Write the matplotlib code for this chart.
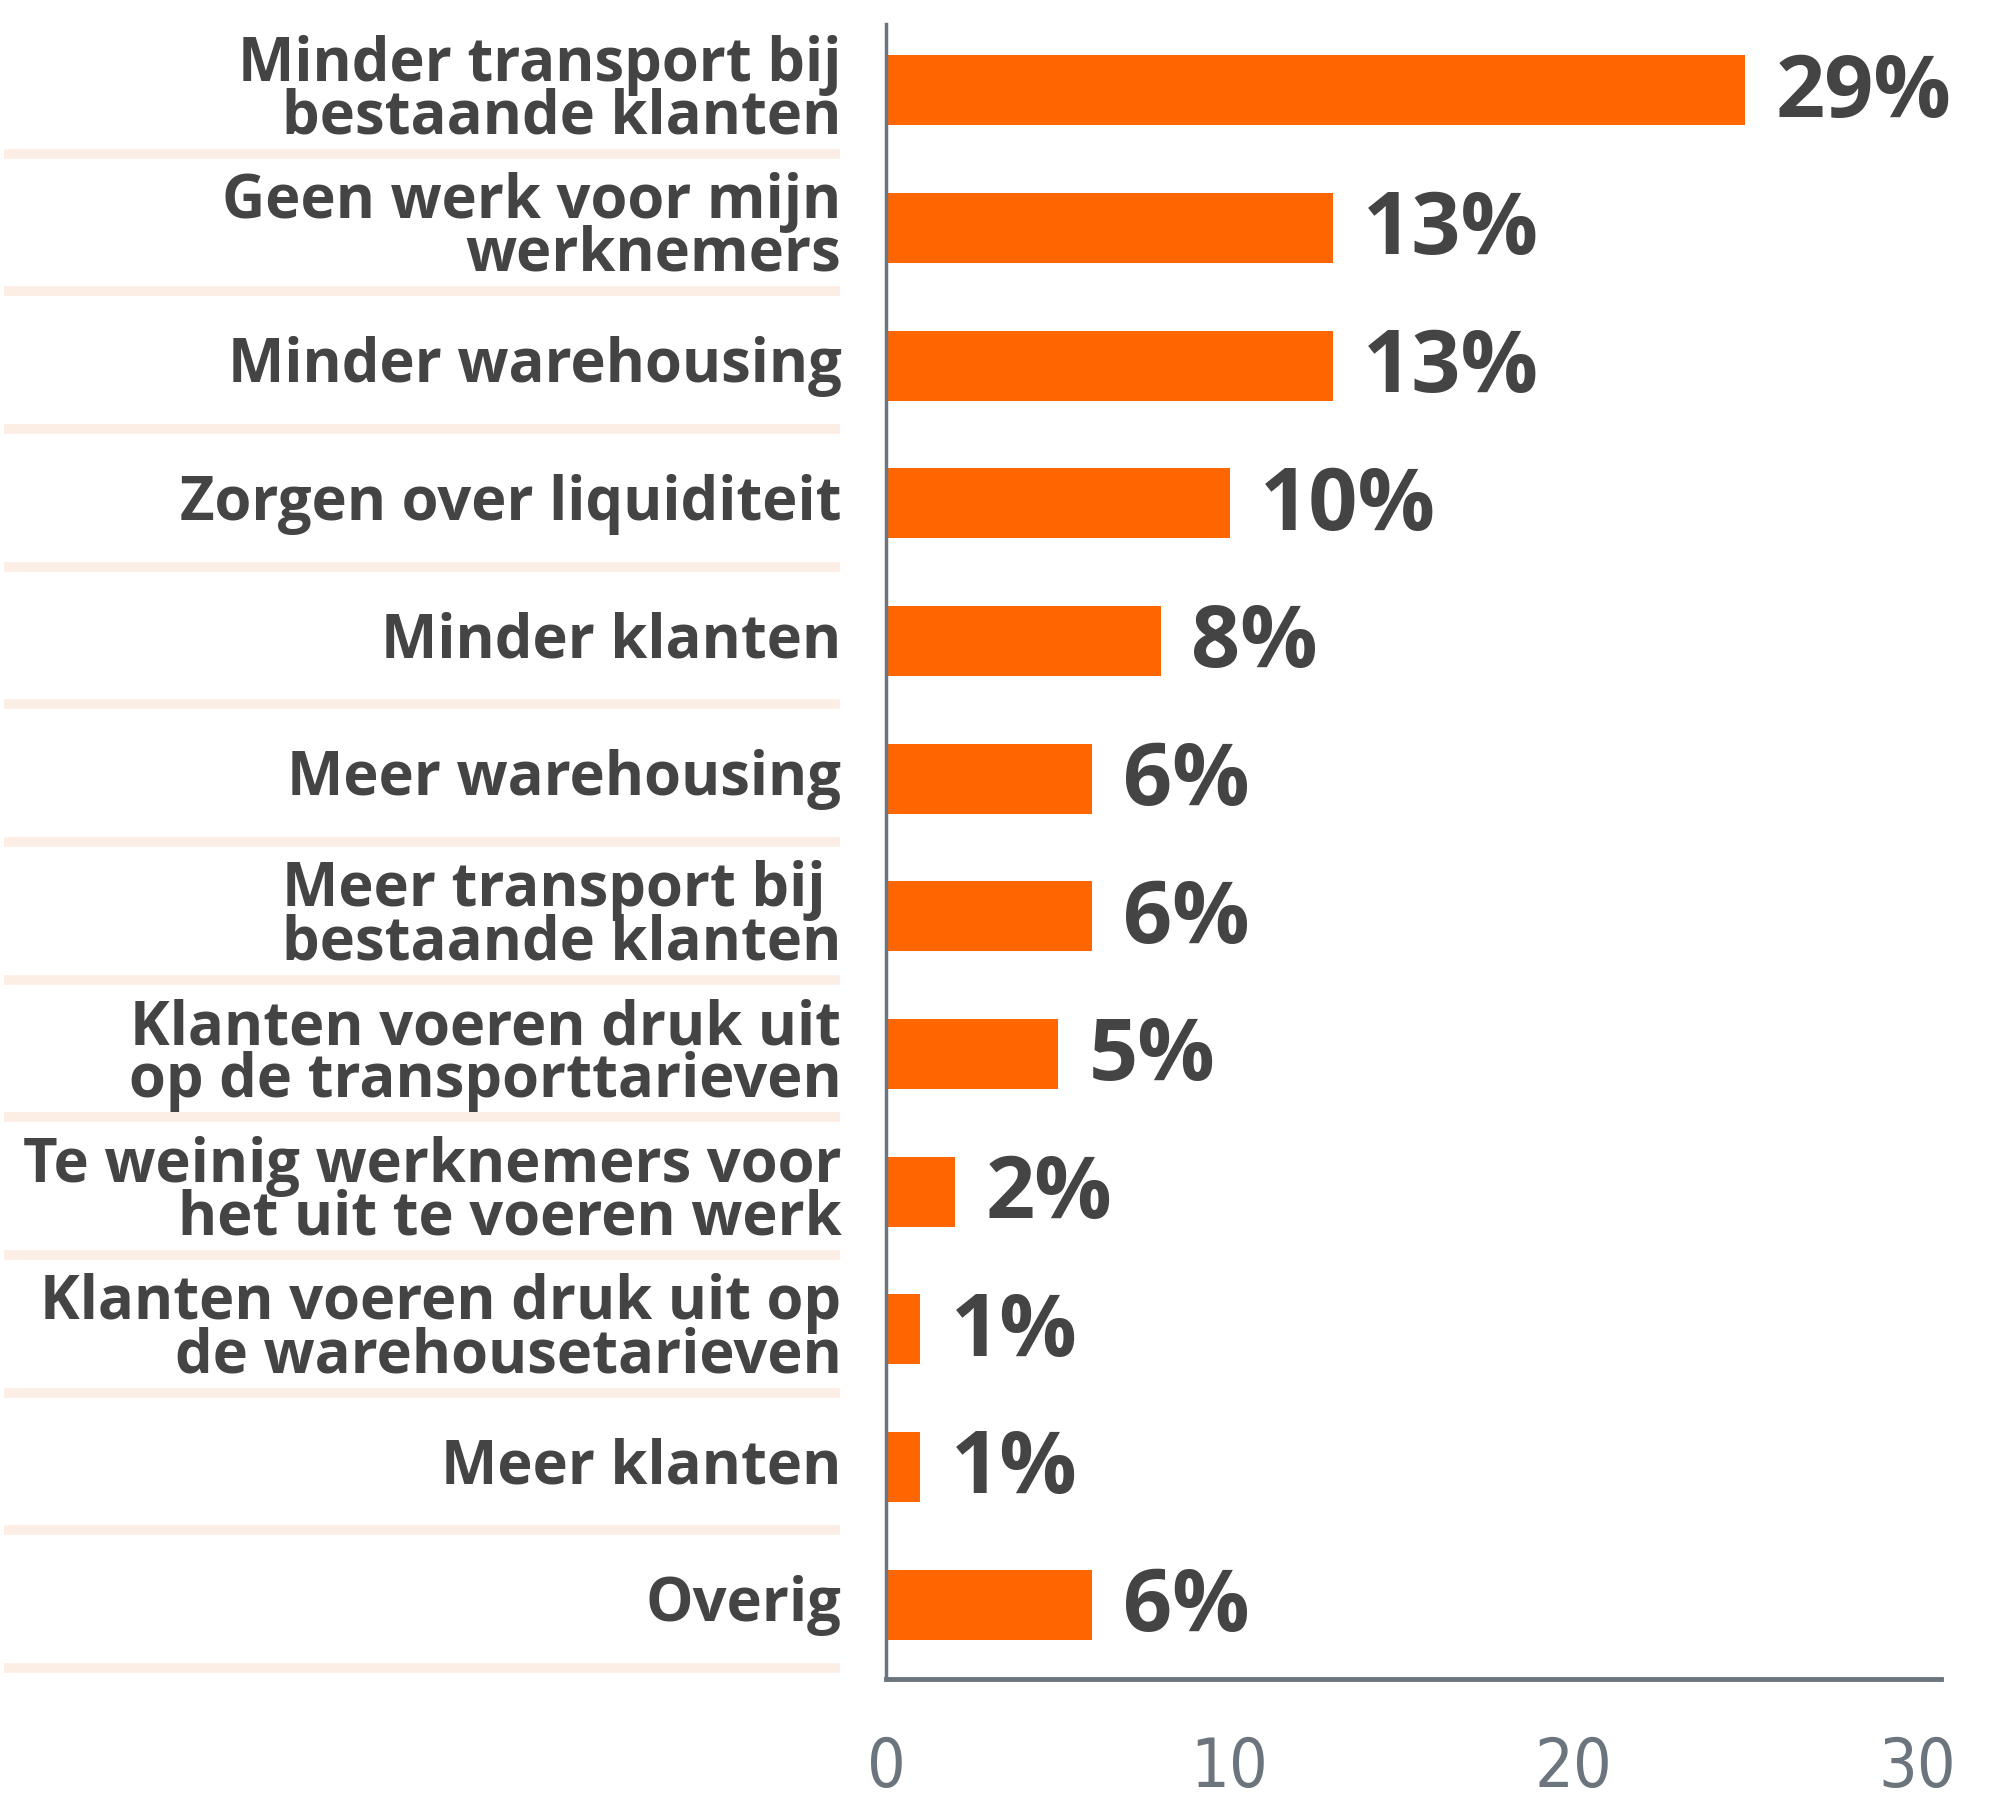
import numpy as np
import matplotlib
matplotlib.use('Agg')
import matplotlib.pyplot as plt
import matplotlib.transforms as mtransforms

categories = [
    'Minder transport bij\nbestaande klanten',
    'Geen werk voor mijn\nwerknemers',
    'Minder warehousing',
    'Zorgen over liquiditeit',
    'Minder klanten',
    'Meer warehousing',
    'Meer transport bij \nbestaande klanten',
    'Klanten voeren druk uit\nop de transporttarieven',
    'Te weinig werknemers voor\nhet uit te voeren werk',
    'Klanten voeren druk uit op\nde warehousetarieven',
    'Meer klanten',
    'Overig',
]
# bar lengths as drawn on the axis
bar_values = [25, 13, 13, 10, 8, 6, 6, 5, 2, 1, 1, 6]
# printed labels
value_labels = ['29%', '13%', '13%', '10%', '8%', '6%', '6%', '5%', '2%', '1%', '1%', '6%']
x_ticks = [0, 10, 20, 30]

ORANGE = '#FF6600'
TEXT = '#444444'
AXIS = '#6c757d'
SEP = '#FDEEE5'

fig = plt.figure(figsize=(19.93, 18.06), dpi=100)
ax = fig.add_axes([0.4445, 0.0698, 0.9739 - 0.4445, 0.986 - 0.0698])

y = np.arange(len(categories))
ax.barh(y, bar_values, height=0.51, color=ORANGE)

ax.set_xlim(0, 30.7)
ax.set_ylim(11.54, -0.48)

for side in ['top', 'right']:
    ax.spines[side].set_visible(False)
ax.spines['left'].set_color(AXIS)
ax.spines['left'].set_linewidth(2.5)
ax.spines['bottom'].set_color(AXIS)
ax.spines['bottom'].set_linewidth(3.5)

ax.set_yticks([])
ax.set_xticks(x_ticks)
ax.tick_params(axis='x', length=0, pad=40, labelsize=49, labelcolor=AXIS)
for lbl in ax.get_xticklabels():
    lbl.set_family('DejaVu Sans')
    lbl.set_stretch('condensed')

# value labels next to bars
for yi, v, s in zip(y, bar_values, value_labels):
    ax.annotate(s, (v, yi), xytext=(22, -2), textcoords='offset points',
                ha='left', va='center', fontsize=62, fontweight='bold',
                color=TEXT, family=['Open Sans', 'DejaVu Sans'])

# category labels and separator lines on the left
trans = mtransforms.blended_transform_factory(fig.transFigure, ax.transData)
for yi, cat in zip(y, categories):
    ax.text(0.4222, yi, cat, transform=trans, ha='right', va='center',
            fontsize=43, fontweight='bold', color=TEXT, linespacing=0.82,
            family=['Open Sans', 'DejaVu Sans'], clip_on=False)
    ax.plot([0.002, 0.4216], [yi + 0.46, yi + 0.46], transform=trans,
            color=SEP, linewidth=7, solid_capstyle='butt', clip_on=False)

fig.savefig('out.png', dpi=100)
